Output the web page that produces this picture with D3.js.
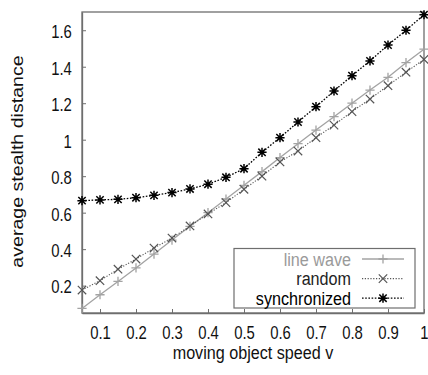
<!DOCTYPE html>
<html>
<head>
<meta charset="utf-8">
<script src="https://cdn.jsdelivr.net/npm/d3@7"></script>
<style>
  body { margin: 0; background: #fff; }
  svg { display: block; font-family: "Liberation Sans", Arial, sans-serif; }
</style>
</head>
<body>
<div id="chart"></div>
<script>
// values
const speeds = [0.05, 0.1, 0.15, 0.2, 0.25, 0.3, 0.35, 0.4, 0.45, 0.5,
                0.55, 0.6, 0.65, 0.7, 0.75, 0.8, 0.85, 0.9, 0.95, 1.0];
const lineWave = [0.075, 0.15, 0.223, 0.297, 0.373, 0.45, 0.525, 0.6, 0.675, 0.75,
                  0.825, 0.902, 0.978, 1.053, 1.126, 1.2, 1.272, 1.342, 1.422, 1.496];
const random = [0.176, 0.227, 0.29, 0.346, 0.406, 0.461, 0.527, 0.593, 0.655, 0.728,
                0.8, 0.878, 0.938, 1.011, 1.08, 1.154, 1.223, 1.296, 1.37, 1.44];
const synchronized = [0.666, 0.67, 0.673, 0.682, 0.695, 0.71, 0.73, 0.756, 0.794, 0.841,
                      0.931, 1.011, 1.097, 1.181, 1.267, 1.351, 1.432, 1.519, 1.6, 1.685];
const xTicks = [0.1, 0.2, 0.3, 0.4, 0.5, 0.6, 0.7, 0.8, 0.9, 1.0];
const yTicks = [0.2, 0.4, 0.6, 0.8, 1.0, 1.2, 1.4, 1.6];

const series = [
  { name: "line wave", values: lineWave, color: "#a3a3a3", text: "#9a9a9a", dash: null, width: 1.3, marker: "plus", mw: 1.3 },
  { name: "random", values: random, color: "#555", text: "#222", dash: "1.2,1.6", width: 1.1, marker: "cross", mw: 1.2 },
  { name: "synchronized", values: synchronized, color: "#000", text: "#000", dash: "1.6,1.6", width: 1.3, marker: "star", mw: 1.5 }
];

const W = 428, H = 375;
const mLeft = 82, mRight = 424, mTop = 12, mBottom = 313;
const sx = 0.85; // text in the picture is squeezed horizontally

let svg = d3.select("#chart").append("svg").attr("width", W).attr("height", H);

let xScale = d3.scaleLinear().domain([0.05, 1.0]).range([mLeft, mRight]);
let yScale = d3.scaleLinear().domain([0.05, 1.7]).range([mBottom, mTop]);

function markerPath(type, r) {
  let p = d3.path();
  if (type === "plus" || type === "star") {
    p.moveTo(-r, 0); p.lineTo(r, 0);
    p.moveTo(0, -r); p.lineTo(0, r);
  }
  if (type === "cross" || type === "star") {
    let q = type === "star" ? r * 0.8 : r;
    p.moveTo(-q, -q); p.lineTo(q, q);
    p.moveTo(-q, q); p.lineTo(q, -q);
  }
  return p.toString();
}

// frame
svg.append("rect")
  .attr("x", mLeft).attr("y", mTop)
  .attr("width", mRight - mLeft).attr("height", mBottom - mTop)
  .attr("fill", "none").attr("stroke", "#6e6e6e").attr("stroke-width", 1.3);

// axes
let xAxis = d3.axisBottom(xScale).tickValues(xTicks).tickSizeInner(-4).tickSizeOuter(0)
  .tickPadding(14).tickFormat(d => String(+d.toFixed(1)));
let gx = svg.append("g").attr("transform", `translate(0,${mBottom})`).call(xAxis);

let yAxis = d3.axisLeft(yScale).tickValues(yTicks).tickSizeInner(-4).tickSizeOuter(0)
  .tickPadding(12).tickFormat(d => String(+d.toFixed(1)));
let gy = svg.append("g").attr("transform", `translate(${mLeft},0)`).call(yAxis);

[gx, gy].forEach(g => {
  g.select(".domain").attr("stroke", "#6e6e6e").attr("stroke-width", 1.3);
  g.selectAll(".tick line").attr("stroke", "#6e6e6e");
  g.selectAll(".tick text")
    .attr("font-size", 17.5).attr("fill", "#111")
    .attr("font-family", "Liberation Sans, Arial, sans-serif")
    .attr("transform", `scale(${sx},1)`);
});
gy.selectAll(".tick text").attr("dy", "0.42em");

// lines and markers
let line = d3.line().x((d, i) => xScale(speeds[i])).y(d => yScale(d));

series.forEach(s => {
  svg.append("path")
    .datum(s.values)
    .attr("d", line)
    .attr("fill", "none")
    .attr("stroke", s.color)
    .attr("stroke-width", s.width)
    .attr("stroke-dasharray", s.dash);

  svg.append("g").selectAll("path")
    .data(s.values)
    .enter()
    .append("path")
    .attr("transform", (d, i) => `translate(${xScale(speeds[i])},${yScale(d)})`)
    .attr("d", markerPath(s.marker, s.marker === "cross" ? 4.2 : 4.6))
    .attr("fill", "none")
    .attr("stroke", s.color)
    .attr("stroke-width", s.mw);
});

// legend
let lg = svg.append("g");
lg.append("rect")
  .attr("x", 234).attr("y", 248.5).attr("width", 181).attr("height", 59.5)
  .attr("fill", "#fff").attr("stroke", "#6e6e6e").attr("stroke-width", 1.2);

series.forEach((s, i) => {
  let y = 259 + i * 19.6;
  lg.append("text")
    .attr("transform", `translate(351,${y + 6.5}) scale(${sx},1)`)
    .attr("text-anchor", "end")
    .attr("font-size", 19)
    .attr("fill", s.text)
    .text(s.name);
  lg.append("line")
    .attr("x1", 362).attr("x2", 404).attr("y1", y).attr("y2", y)
    .attr("stroke", s.color).attr("stroke-width", s.width)
    .attr("stroke-dasharray", s.dash);
  lg.append("path")
    .attr("transform", `translate(383,${y})`)
    .attr("d", markerPath(s.marker, s.marker === "cross" ? 4.2 : 4.6))
    .attr("fill", "none").attr("stroke", s.color).attr("stroke-width", s.mw);
});

// axis titles
svg.append("text")
  .attr("transform", `translate(${(mLeft + mRight) / 2},359) scale(${sx},1)`)
  .attr("text-anchor", "middle")
  .attr("font-size", 19)
  .attr("fill", "#111")
  .text("moving object speed v");

svg.append("text")
  .attr("transform", `translate(23,161.5) rotate(-90) scale(1,${sx})`)
  .attr("text-anchor", "middle")
  .attr("font-size", 19.6)
  .attr("fill", "#111")
  .text("average stealth distance");
</script>
</body>
</html>
